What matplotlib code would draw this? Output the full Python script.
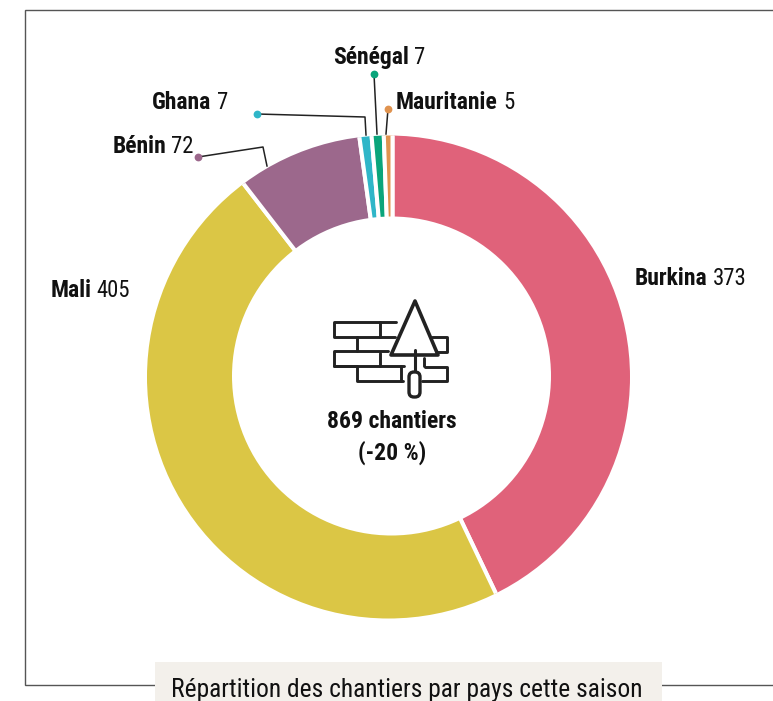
import matplotlib
matplotlib.use("Agg")
import matplotlib.pyplot as plt
from matplotlib.patches import Rectangle, FancyBboxPatch, Polygon, Circle

countries = ["Burkina", "Mali", "Bénin", "Ghana", "Sénégal", "Mauritanie"]
chantiers = [373, 405, 72, 7, 7, 5]
colors = ["#E0627A", "#DBC645", "#9C688C", "#2FB6C8", "#0AA57B", "#E0934F"]
center_lines = ["869 chantiers", "(-20 %)"]
caption = "Répartition des chantiers par pays cette saison"

plt.rcParams["font.family"] = ["Roboto Condensed", "DejaVu Sans"]

W, H = 773, 701
fig = plt.figure(figsize=(W / 100, H / 100), dpi=100)
ax = fig.add_axes([0, 0, 1, 1])

def Y(py):
    return H - py

CX, CY = 392.5, 376.5
wedges, _ = ax.pie(chantiers, colors=colors, startangle=90, counterclock=False,
                   center=(CX, Y(CY)), radius=262,
                   wedgeprops=dict(edgecolor="white", linewidth=2.9))
ax.set_xlim(0, W)
ax.set_ylim(0, H)
ax.set_aspect("auto")
ax.axis("off")
outer = Circle((388.5, Y(377)), 241.5, transform=ax.transData)
for w in wedges:
    w.set_clip_on(True)
    w.set_clip_path(outer)
ax.add_patch(Circle((391.5, Y(376)), 159.5, facecolor="white", edgecolor="none", zorder=1.5))

# frame
frame = "#555555"
ax.plot([155, 25, 25, W], [Y(685), Y(685), Y(10), Y(10)], color=frame, lw=1, solid_joinstyle="miter")
ax.plot([662, W], [Y(685), Y(685)], color=frame, lw=1)
ax.add_patch(Rectangle((155, 0), 507, Y(662), facecolor="#F3F0EB", edgecolor="none", zorder=3))
ax.text(407, Y(697), caption, ha="center", va="baseline", fontsize=18.4, color="#111111", zorder=4)

# labels: name x, value x, baseline y
FS_B = 17.0
FS_R = 16.4
labels = [(635, 713, 285), (51, 96, 297), (113, 171, 153), (152, 217, 109), (333, 414, 64), (396, 503, 109)]
for name, val, (xn, xv, yb) in zip(countries, chantiers, labels):
    ax.text(xn, Y(yb), name, fontsize=FS_B, fontweight="bold", ha="left", va="baseline", color="#111111")
    ax.text(xv, Y(yb), str(val), fontsize=FS_R, ha="left", va="baseline", color="#111111")

# leaders
leaders = [
    (2, [(198, 157), (263, 147), (267, 166)]),
    (3, [(257, 114), (365, 117), (366, 135)]),
    (4, [(374, 74), (377, 134)]),
    (5, [(388, 109), (386, 134)]),
]
for i, pts in leaders:
    xs = [p[0] for p in pts]
    ys = [Y(p[1]) for p in pts]
    ax.plot(xs, ys, color="#222222", lw=1.1, zorder=2)
    ax.plot(xs[0], ys[0], "o", ms=5.6, color=colors[i], mec="none", zorder=3)

# icon
ic = "#222222"
lw = 2.1
def ln(pts, lw=lw):
    ax.plot([p[0] for p in pts], [Y(p[1]) for p in pts], color=ic, lw=lw,
            solid_capstyle="round", solid_joinstyle="round", zorder=5)
ln([(396, 322), (334, 322), (334, 337), (357, 337), (357, 351), (334, 351), (334, 366),
    (357, 366), (357, 381), (403, 381)])
ln([(432, 337), (447, 337), (447, 352), (437, 352)])
ln([(357, 337), (395, 337)])
ln([(357, 351), (388, 351)])
ln([(334, 366), (404, 366)])
ln([(425, 367), (447, 367), (447, 381), (422, 381)])
ln([(380, 322), (380, 337)])
ln([(380, 353), (380, 366)])
ln([(401, 366), (401, 381)])
ln([(424, 358), (424, 366)])
ax.add_patch(Polygon([(415, Y(301)), (391, Y(355)), (438, Y(355))], closed=True, facecolor="white",
                     edgecolor=ic, lw=2.6, joinstyle="round", zorder=6))
ln([(415, 350), (415, 370)], lw=2.2)
ax.lines[-1].set_zorder(7)
ax.add_patch(FancyBboxPatch((409, Y(397)), 11, 25, boxstyle="round,pad=0,rounding_size=5",
                            facecolor="white", edgecolor=ic, lw=2.4, zorder=6))

ax.text(392, Y(422), center_lines[0], ha="center", va="center", fontsize=FS_B, fontweight="bold", color="#111111")
ax.text(392, Y(453), center_lines[1], ha="center", va="center", fontsize=FS_B, fontweight="bold", color="#111111")

fig.savefig("out.png", dpi=100)
